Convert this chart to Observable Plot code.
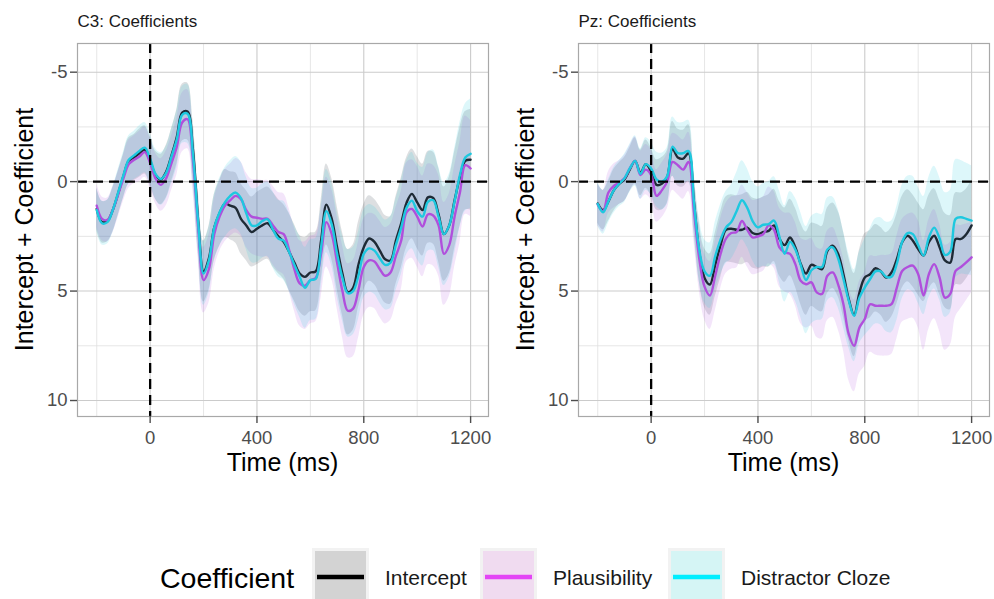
<!DOCTYPE html>
<html><head><meta charset="utf-8">
<script src="https://cdn.jsdelivr.net/npm/d3@7"></script>
<script src="https://cdn.jsdelivr.net/npm/@observablehq/plot@0.6"></script>
<style>
html,body{margin:0;padding:0;background:#fff}
#wrap{position:relative;width:994px;height:599px;overflow:hidden;background:#fff;font-family:"Liberation Sans",Arial,Helvetica,sans-serif}
#wrap svg{position:absolute;top:0}
</style></head><body><div id="wrap"></div>
<script>
// ---------------- data ----------------
const times = d3.range(-200, 1201, 20); // sampling grid (ms)
const seriesNames = ["Intercept", "Plausibility", "Distractor Cloze"];
const facetTitles = ["C3: Coefficients", "Pz: Coefficients"];
const xMajor = [0, 400, 800, 1200];
const xMinor = [-200, 200, 600, 1000];
const yMajor = [-5, 0, 5, 10];
const yMinor = [-2.5, 2.5, 7.5];

// C3 estimates
const c3Intercept = [1.25,1.85,1.8,1.3,0.55,-0.25,-0.95,-1.1,-1.3,-1.45,-0.95,
 -0.3,-0.1,-0.45,-1.2,-2.05,-3.15,-3.2,-1.5,1.8,4.1,
 3.5,2.1,1.45,1.0,1.1,1.2,1.7,2.0,2.3,2.15,
 2.0,1.9,2.2,2.5,2.75,3.2,3.7,4.2,4.35,4.15,
 4.1,2.7,1.05,1.7,3.0,4.2,5.05,4.85,3.8,3.0,
 2.6,2.75,3.15,3.55,3.6,2.7,1.9,0.97,0.56,0.95,
 1.3,0.72,0.75,1.5,2.4,2.0,0.85,-0.2,-0.95,-1.0];
const c3Plausibility = [1.1,1.7,1.75,1.3,0.6,-0.15,-0.8,-1.0,-1.15,-1.35,-0.85,
 -0.15,0.15,-0.15,-0.85,-1.6,-2.7,-2.85,-1.0,2.1,4.5,
 4.0,2.4,1.6,1.1,0.85,0.65,0.8,1.3,1.6,1.65,
 1.7,1.7,2.0,2.3,2.4,3.1,4.0,4.65,4.75,4.5,
 4.4,3.3,1.85,2.4,3.7,5.0,5.9,5.8,4.95,3.9,
 3.6,3.65,4.0,4.3,4.15,3.4,2.7,1.4,1.25,1.6,
 2.05,1.5,1.55,2.0,3.3,2.9,1.6,0.5,-0.75,-0.6];
const c3Cloze = [1.3,1.9,1.85,1.3,0.5,-0.3,-1.0,-1.2,-1.4,-1.55,-1.05,
 -0.35,-0.12,-0.4,-1.15,-1.95,-3.05,-3.1,-1.3,1.9,4.2,
 3.6,2.1,1.4,0.95,0.65,0.5,0.75,1.45,2.0,2.0,
 1.8,1.72,2.2,2.6,2.7,3.2,3.8,4.35,4.85,4.5,
 4.45,3.0,1.35,1.95,3.3,4.4,5.1,5.0,4.3,3.3,
 3.05,3.15,3.5,3.8,3.7,2.9,2.1,1.2,0.87,1.35,
 1.6,0.93,0.85,1.6,2.4,2.0,0.9,-0.3,-1.1,-1.27];
// C3 ribbon half-widths
const c3InterceptCI = [0.95,0.95,0.95,1.0,1.0,1.0,1.05,1.05,1.1,1.1,1.1,
 1.1,1.15,1.2,1.2,1.25,1.3,1.3,1.35,1.4,1.4,
 1.45,1.5,1.5,1.55,1.55,1.6,1.6,1.6,1.6,1.65,
 1.65,1.65,1.7,1.7,1.7,1.75,1.75,1.75,1.8,1.8,
 1.8,1.8,1.85,1.85,1.9,1.9,1.95,1.95,1.95,1.95,
 1.95,1.95,2.0,2.0,2.0,2.0,2.05,2.05,2.05,2.1,
 2.1,2.1,2.1,2.15,2.15,2.2,2.2,2.25,2.25,2.3];
const c3PlausibilityCI = [1.0,1.0,1.0,1.05,1.05,1.05,1.1,1.1,1.15,1.15,1.15,
 1.15,1.2,1.25,1.25,1.3,1.35,1.35,1.4,1.45,1.5,
 1.55,1.6,1.6,1.65,1.65,1.7,1.7,1.7,1.7,1.75,
 1.75,1.75,1.8,1.8,1.85,1.9,1.9,1.95,2.0,2.0,
 2.0,2.0,2.05,2.05,2.1,2.1,2.15,2.2,2.2,2.2,
 2.15,2.15,2.2,2.2,2.2,2.2,2.25,2.25,2.25,2.3,
 2.3,2.3,2.3,2.3,2.35,2.35,2.3,2.3,2.25,2.2];
const c3ClozeCI = [1.0,1.0,1.0,1.05,1.05,1.05,1.1,1.1,1.15,1.15,1.15,
 1.15,1.2,1.2,1.25,1.3,1.3,1.35,1.4,1.4,1.45,
 1.5,1.5,1.55,1.6,1.6,1.65,1.65,1.65,1.7,1.7,
 1.7,1.7,1.75,1.75,1.8,1.8,1.8,1.85,1.85,1.85,
 1.85,1.85,1.9,1.9,1.95,1.95,2.0,2.0,2.0,2.0,
 2.0,2.0,2.05,2.05,2.1,2.1,2.15,2.15,2.2,2.2,
 2.25,2.25,2.3,2.3,2.35,2.35,2.4,2.4,2.45,2.5];

// Pz estimates
const pzIntercept = [1.0,1.3,0.9,0.4,0.1,-0.1,-0.55,-0.95,-0.4,-0.8,-0.45,
 0.15,0.1,-0.2,-1.5,-1.1,-1.05,-1.3,0.9,3.2,4.4,
 4.7,3.8,2.9,2.2,2.15,2.2,2.2,2.1,2.35,2.4,
 2.3,2.25,2.0,2.6,2.9,2.55,3.0,3.75,4.2,3.8,
 3.9,4.0,3.16,2.93,3.3,4.23,5.37,6.1,5.07,4.38,
 4.23,3.96,4.1,4.38,4.15,3.54,2.77,2.47,2.7,3.08,
 3.38,2.77,2.47,3.0,3.6,3.7,2.62,2.62,2.4,2.0];
const pzPlausibility = [1.05,1.35,0.5,0.2,0.05,-0.15,-0.6,-0.95,-0.3,-0.55,-0.3,
 0.65,0.4,0.0,-0.9,-0.75,-0.55,-0.9,1.3,3.5,4.8,
 5.2,4.3,3.3,2.6,2.35,2.3,1.8,2.2,2.55,2.5,
 2.4,2.0,2.2,3.0,3.23,3.3,3.77,4.53,4.69,4.6,
 5.06,5.13,4.3,4.15,4.69,5.6,6.97,7.5,6.66,6.28,
 5.6,5.67,5.67,5.67,5.6,4.84,4.08,3.9,3.84,4.23,
 5.2,4.23,3.77,4.38,5.3,5.13,4.08,3.9,3.69,3.46];
const pzCloze = [1.02,1.4,0.9,0.4,0.1,-0.15,-0.6,-0.95,-0.35,-0.8,-0.6,
 -0.1,0.0,-0.25,-1.6,-1.3,-1.3,-1.4,0.9,3.1,4.1,
 4.3,3.4,2.65,2.1,1.85,1.35,0.85,1.2,1.8,2.09,
 1.97,1.94,1.78,2.5,3.3,2.75,3.1,3.8,4.5,4.05,
 3.9,3.9,3.1,3.0,3.5,4.45,5.44,6.13,5.3,4.83,
 4.45,4.1,4.1,4.35,4.35,3.75,2.75,2.35,2.4,2.9,
 3.38,2.55,2.1,2.6,3.35,3.2,1.7,1.63,1.7,1.78];
// Pz ribbon half-widths
const pzInterceptCI = [0.9,0.9,0.9,0.95,0.95,1.0,1.0,1.05,1.05,1.1,1.1,
 1.15,1.2,1.2,1.25,1.3,1.3,1.3,1.3,1.35,1.35,
 1.4,1.45,1.5,1.5,1.55,1.55,1.6,1.6,1.6,1.6,
 1.6,1.65,1.65,1.7,1.7,1.75,1.8,1.85,1.9,1.9,
 1.95,1.95,1.95,1.95,1.95,1.95,1.9,1.9,1.95,2.0,
 2.0,2.0,2.0,2.05,2.05,2.05,2.1,2.1,2.1,2.1,
 2.1,2.15,2.15,2.15,2.15,2.15,2.1,2.1,2.05,2.05];
const pzPlausibilityCI = [0.95,0.95,0.95,1.0,1.0,1.05,1.05,1.1,1.1,1.15,1.15,
 1.2,1.25,1.25,1.3,1.35,1.35,1.35,1.4,1.45,1.5,
 1.55,1.6,1.6,1.6,1.65,1.65,1.65,1.7,1.7,1.7,
 1.7,1.75,1.75,1.8,1.8,1.85,1.9,1.95,2.0,2.0,
 2.05,2.05,2.05,2.05,2.05,2.1,2.1,2.1,2.1,2.15,
 2.2,2.25,2.3,2.3,2.3,2.35,2.35,2.4,2.4,2.45,
 2.5,2.5,2.5,2.45,2.4,2.35,2.1,1.9,1.75,1.6];
const pzClozeCI = [1.0,1.0,1.0,1.05,1.05,1.1,1.1,1.15,1.15,1.2,1.2,
 1.25,1.3,1.3,1.35,1.4,1.4,1.4,1.4,1.45,1.45,
 1.5,1.55,1.6,1.65,1.7,1.75,1.8,1.8,1.8,1.85,
 1.9,1.95,2.0,2.1,2.2,2.3,2.35,2.4,2.45,2.45,
 2.45,2.4,2.35,2.3,2.25,2.2,2.15,2.1,2.1,2.2,
 2.3,2.4,2.45,2.5,2.55,2.6,2.6,2.6,2.65,2.65,
 2.7,2.75,2.8,2.8,2.85,2.8,2.7,2.6,2.55,2.5];

// ---------------- styling ----------------
const lineColors = ["#1e2a35", "#b04fdc", "#1ec8df"];
const keyFills = ["#d3d3d3", "#f0dbf0", "#d5f5f5"];
const keyLines = ["#000000", "#e345f5", "#00eeff"];
const FONT = '"Liberation Sans", Arial, Helvetica, sans-serif';

function rows(vals, ci) {
  return times.map((t, i) => ({t, v: vals[i], lo: vals[i] - ci[i], hi: vals[i] + ci[i]}));
}

function panel(data, mL, mR) {
  const marks = [
    Plot.ruleX(xMinor, {stroke: "#e0e0e0", strokeWidth: 0.8}),
    Plot.ruleY(yMinor, {stroke: "#e0e0e0", strokeWidth: 0.8}),
    Plot.ruleX(xMajor, {stroke: "#cbcbcb", strokeWidth: 1.1}),
    Plot.ruleY(yMajor, {stroke: "#cbcbcb", strokeWidth: 1.1})
  ];
  data.forEach((r, k) => marks.push(Plot.areaY(r, {x: "t", y1: "lo", y2: "hi", fill: lineColors[k], fillOpacity: 0.15, curve: "catmull-rom"})));
  data.forEach((r, k) => marks.push(Plot.line(r, {x: "t", y: "v", stroke: lineColors[k], strokeWidth: 2.4, curve: "catmull-rom"})));
  marks.push(
    Plot.ruleX([0], {stroke: "#000", strokeWidth: 2.3, strokeDasharray: "10,6"}),
    Plot.ruleY([0], {stroke: "#000", strokeWidth: 2.3, strokeDasharray: "10,6"}),
    Plot.frame({stroke: "#a8a8a8", strokeWidth: 1.2}),
    Plot.axisX({ticks: xMajor, tickSize: 7, tickPadding: 7, tickFormat: d => String(d), label: null,
      fontSize: 18.5, color: "#4d4d4d", strokeWidth: 1.4}),
    Plot.axisY({ticks: yMajor, tickSize: 7, tickPadding: 3, tickFormat: d => String(d), label: null,
      fontSize: 18.5, color: "#4d4d4d", strokeWidth: 1.4})
  );
  return Plot.plot({
    width: 497, height: 460,
    marginLeft: mL, marginRight: mR, marginTop: 43, marginBottom: 44,
    x: {domain: [-272, 1267]},
    y: {domain: [-6.31, 10.73], reverse: true},
    style: {fontFamily: FONT, fontSize: "18.5px", background: "transparent", overflow: "visible"},
    marks
  });
}

const wrap = document.getElementById("wrap");
const left = panel([rows(c3Intercept, c3InterceptCI), rows(c3Plausibility, c3PlausibilityCI), rows(c3Cloze, c3ClozeCI)], 77, 9);
left.style.left = "0px";
wrap.appendChild(left);
const right = panel([rows(pzIntercept, pzInterceptCI), rows(pzPlausibility, pzPlausibilityCI), rows(pzCloze, pzClozeCI)], 81, 5);
right.style.left = "497px";
wrap.appendChild(right);

// ---------------- text overlay + legend ----------------
const ov = d3.create("svg").attr("width", 994).attr("height", 599)
  .style("left", "0px").style("pointer-events", "none").style("font-family", FONT);
const panelsX = [[77, 488], [578, 989]];
panelsX.forEach(([x0, x1], k) => {
  ov.append("text").attr("x", x0 + 0.5).attr("y", 27.3).attr("font-size", 17).attr("fill", "#1a1a1a").text(facetTitles[k]);
  ov.append("text").attr("x", (x0 + x1) / 2).attr("y", 471).attr("text-anchor", "middle")
    .attr("font-size", 25).attr("fill", "#000").text("Time (ms)");
  ov.append("text").attr("transform", `translate(${x0 - 44},229.5) rotate(-90)`).attr("text-anchor", "middle")
    .attr("font-size", 25).attr("fill", "#000").text("Intercept + Coefficient");
});
ov.append("text").attr("x", 160).attr("y", 588).attr("font-size", 28.5).attr("fill", "#000").text("Coefficient");
const keyX = [312, 480, 668];
seriesNames.forEach((name, k) => {
  const bx = keyX[k];
  ov.append("rect").attr("x", bx).attr("y", 548).attr("width", 57).attr("height", 60).attr("fill", "#f2f2f2");
  ov.append("rect").attr("x", bx + 3).attr("y", 551).attr("width", 51).attr("height", 54).attr("fill", keyFills[k]);
  ov.append("line").attr("x1", bx + 5).attr("x2", bx + 52).attr("y1", 577).attr("y2", 577)
    .attr("stroke", keyLines[k]).attr("stroke-width", 4.3);
  ov.append("text").attr("x", bx + 73).attr("y", 585).attr("font-size", 21).attr("fill", "#1a1a1a").text(name);
});
wrap.appendChild(ov.node());
</script></body></html>
